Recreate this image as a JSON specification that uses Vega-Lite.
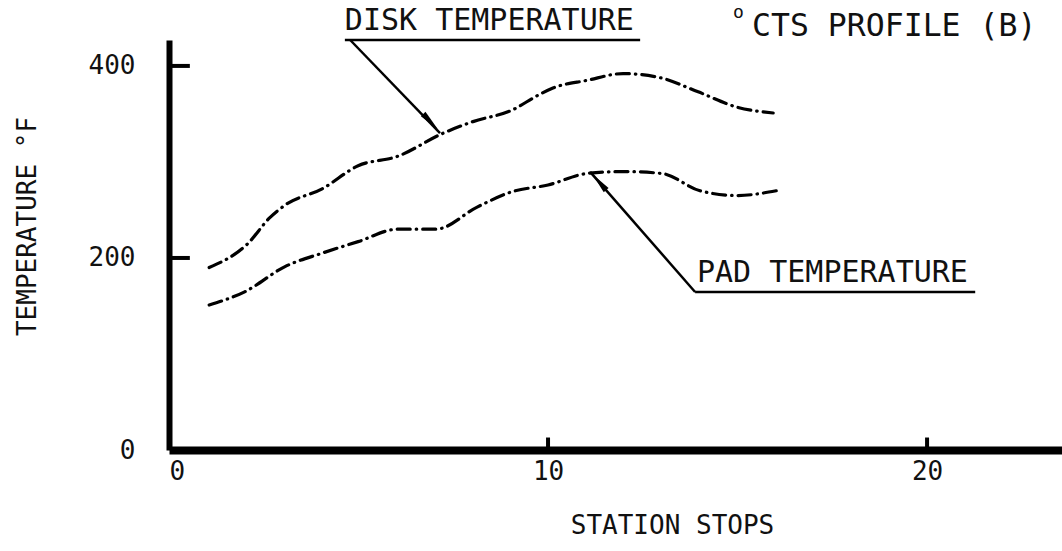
{
  "$schema": "https://vega.github.io/schema/vega-lite/v6.json",
  "width": 893,
  "height": 410,
  "autosize": {"type": "none"},
  "padding": {"left": 169, "top": 40, "right": 0, "bottom": 101},
  "background": "white",
  "config": {
    "view": {"stroke": null},
    "font": "DejaVu Sans Mono",
    "axis": {"grid": false}
  },
  "datasets": {
    "curves": [
      {"series": "Disk", "station": 1.06, "temp": 190},
      {"series": "Disk", "station": 2.08, "temp": 215},
      {"series": "Disk", "station": 2.66, "temp": 242},
      {"series": "Disk", "station": 3.06, "temp": 255},
      {"series": "Disk", "station": 4.04, "temp": 272},
      {"series": "Disk", "station": 4.99, "temp": 296},
      {"series": "Disk", "station": 6.04, "temp": 306},
      {"series": "Disk", "station": 7.18, "temp": 329},
      {"series": "Disk", "station": 8.02, "temp": 342},
      {"series": "Disk", "station": 9.05, "temp": 354},
      {"series": "Disk", "station": 9.76, "temp": 370},
      {"series": "Disk", "station": 10.13, "temp": 377},
      {"series": "Disk", "station": 11.03, "temp": 385},
      {"series": "Disk", "station": 11.98, "temp": 392},
      {"series": "Disk", "station": 12.93, "temp": 388},
      {"series": "Disk", "station": 13.96, "temp": 373},
      {"series": "Disk", "station": 14.99, "temp": 357},
      {"series": "Disk", "station": 15.94, "temp": 351},
      {"series": "Pad", "station": 1.06, "temp": 151},
      {"series": "Pad", "station": 2.01, "temp": 165},
      {"series": "Pad", "station": 3.06, "temp": 191},
      {"series": "Pad", "station": 4.04, "temp": 205},
      {"series": "Pad", "station": 4.99, "temp": 217},
      {"series": "Pad", "station": 6.04, "temp": 230},
      {"series": "Pad", "station": 7.04, "temp": 230},
      {"series": "Pad", "station": 8.13, "temp": 253},
      {"series": "Pad", "station": 9.05, "temp": 269},
      {"series": "Pad", "station": 10.0, "temp": 276},
      {"series": "Pad", "station": 11.03, "temp": 288},
      {"series": "Pad", "station": 11.98, "temp": 290},
      {"series": "Pad", "station": 13.0, "temp": 288},
      {"series": "Pad", "station": 14.01, "temp": 270},
      {"series": "Pad", "station": 14.99, "temp": 265},
      {"series": "Pad", "station": 16.02, "temp": 270}
    ],
    "leaders": [
      {"name": "disk underline", "x1": 4.64, "y1": 427, "x2": 12.43, "y2": 427},
      {"name": "disk leader", "x1": 4.78, "y1": 427, "x2": 7.15, "y2": 330},
      {"name": "pad underline", "x1": 13.88, "y1": 164.6, "x2": 21.27, "y2": 164.6},
      {"name": "pad leader", "x1": 13.88, "y1": 164.6, "x2": 11.11, "y2": 289.6}
    ],
    "ticks": [
      {"name": "y tick 200", "x1": 0, "y1": 200, "x2": 0.55, "y2": 200},
      {"name": "y tick 400", "x1": 0, "y1": 400, "x2": 0.55, "y2": 400},
      {"name": "x tick 10", "x1": 10, "y1": 0, "x2": 10, "y2": 13},
      {"name": "x tick 20", "x1": 20, "y1": 0, "x2": 20, "y2": 13}
    ],
    "arrows": [
      {"name": "disk", "x": 6.9, "y": 342, "angle": 136},
      {"name": "pad", "x": 11.35, "y": 279, "angle": 319}
    ],
    "labels": [
      {"label": "DISK TEMPERATURE", "x": 4.64, "y": 437},
      {"label": "PAD TEMPERATURE", "x": 13.93, "y": 175}
    ],
    "profile": [
      {"label": "CTS PROFILE (B)", "x": 15.38, "y": 431}
    ],
    "small": [
      {"label": "o", "x": 14.88, "y": 450}
    ]
  },
  "layer": [
    {
      "data": {"name": "curves"},
      "mark": {"type": "line", "color": "black", "strokeWidth": 3.2, "strokeDash": [13, 6, 0.5, 6], "strokeCap": "round", "interpolate": "monotone"},
      "encoding": {
        "x": {
          "field": "station", "type": "quantitative",
          "scale": {"domain": [0, 23.56], "nice": false, "zero": false},
          "axis": {
            "title": "STATION STOPS",
            "values": [0, 10, 20],
            "domainColor": "black", "domainWidth": 8,
            "ticks": false,
            "labelFont": "DejaVu Sans Mono", "labelFontSize": 26, "labelColor": "#111",
            "labelPadding": 8, "labelFlush": true,
            "titleFont": "DejaVu Sans Mono", "titleFontSize": 26, "titleFontWeight": "normal", "titleColor": "#111",
            "titleX": 503, "titleY": 75, "titleBaseline": "middle", "titleAlign": "center"
          }
        },
        "y": {
          "field": "temp", "type": "quantitative",
          "scale": {"domain": [0, 427], "nice": false, "zero": false},
          "axis": {
            "title": "TEMPERATURE  °F",
            "values": [0, 200, 400],
            "domainColor": "black", "domainWidth": 6,
            "ticks": false,
            "labelFont": "DejaVu Sans Mono", "labelFontSize": 26, "labelColor": "#111",
            "labelPadding": 34,
            "titleFont": "DejaVu Sans Mono", "titleFontSize": 26, "titleFontWeight": "normal", "titleColor": "#111",
            "titleX": -142, "titleY": 186, "titleBaseline": "middle", "titleAlign": "center"
          }
        },
        "detail": {"field": "series", "type": "nominal"}
      }
    },
    {
      "data": {"name": "leaders"},
      "mark": {"type": "rule", "color": "black", "strokeWidth": 2.5},
      "encoding": {
        "x": {"field": "x1", "type": "quantitative"},
        "y": {"field": "y1", "type": "quantitative"},
        "x2": {"field": "x2"},
        "y2": {"field": "y2"}
      }
    },
    {
      "data": {"name": "ticks"},
      "mark": {"type": "rule", "color": "black", "strokeWidth": 4},
      "encoding": {
        "x": {"field": "x1", "type": "quantitative"},
        "y": {"field": "y1", "type": "quantitative"},
        "x2": {"field": "x2"},
        "y2": {"field": "y2"}
      }
    },
    {
      "data": {"name": "arrows"},
      "mark": {"type": "point", "shape": "M0,-1L0.3,1L-0.3,1Z", "filled": true, "color": "black", "size": 450, "opacity": 1},
      "encoding": {
        "x": {"field": "x", "type": "quantitative"},
        "y": {"field": "y", "type": "quantitative"},
        "angle": {"field": "angle", "type": "quantitative", "scale": null}
      }
    },
    {
      "data": {"name": "labels"},
      "mark": {"type": "text", "align": "left", "baseline": "alphabetic", "fontSize": 30, "font": "DejaVu Sans Mono", "color": "#111"},
      "encoding": {
        "x": {"field": "x", "type": "quantitative"},
        "y": {"field": "y", "type": "quantitative"},
        "text": {"field": "label"}
      }
    },
    {
      "data": {"name": "profile"},
      "mark": {"type": "text", "align": "left", "baseline": "alphabetic", "fontSize": 31.5, "font": "DejaVu Sans Mono", "color": "#111"},
      "encoding": {
        "x": {"field": "x", "type": "quantitative"},
        "y": {"field": "y", "type": "quantitative"},
        "text": {"field": "label"}
      }
    },
    {
      "data": {"name": "small"},
      "mark": {"type": "text", "align": "left", "baseline": "alphabetic", "fontSize": 18, "font": "DejaVu Sans Mono", "color": "#111"},
      "encoding": {
        "x": {"field": "x", "type": "quantitative"},
        "y": {"field": "y", "type": "quantitative"},
        "text": {"field": "label"}
      }
    }
  ]
}
